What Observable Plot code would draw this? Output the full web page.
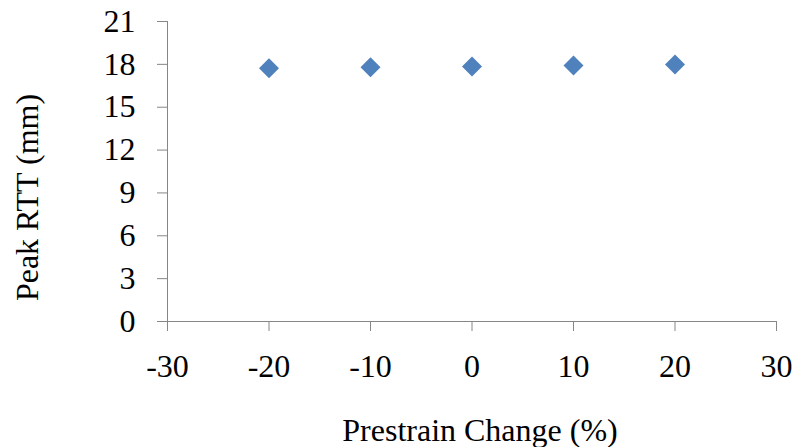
<!DOCTYPE html>
<html>
<head>
<meta charset="utf-8">
<script src="https://cdn.jsdelivr.net/npm/d3@7"></script>
<script src="https://cdn.jsdelivr.net/npm/@observablehq/plot@0.6"></script>
<style>
  html, body { margin: 0; padding: 0; background: #fff; }
  #chart svg { display: block; }
</style>
</head>
<body>
<div id="chart"></div>
<script>
// Data
const prestrainChange = [-20, -10, 0, 10, 20];
const peakRTT = [17.72, 17.8, 17.85, 17.92, 17.99];
const xTicks = [-30, -20, -10, 0, 10, 20, 30];
const yTicks = [0, 3, 6, 9, 12, 15, 18, 21];
const xTitle = "Prestrain Change (%)";
const yTitle = "Peak RTT (mm)";

const points = prestrainChange.map((x, i) => ({x, y: peakRTT[i]}));
const axisColor = "#868686";
const font = "'Liberation Serif', 'Times New Roman', serif";
const fmt = d => String(d); // plain hyphen-minus like the reference

const chart = Plot.plot({
  width: 796,
  height: 447,
  marginLeft: 167,
  marginRight: 20,
  marginTop: 21,
  marginBottom: 126,
  style: {fontFamily: font, background: "#fff", color: "#000"},
  x: {domain: [-30, 30]},
  y: {domain: [0, 21]},
  marks: [
    Plot.axisY(yTicks, {tickSize: 10, tickPadding: 22, fontSize: 32, stroke: axisColor, fill: "#000", tickFormat: fmt, label: null}),
    Plot.axisX(xTicks, {tickSize: 10, tickPadding: 23, fontSize: 32, stroke: axisColor, fill: "#000", tickFormat: fmt, label: null}),
    Plot.ruleY([0], {stroke: axisColor}),
    Plot.ruleX([-30], {stroke: axisColor}),
    Plot.dot(points, {x: "x", y: "y", symbol: "diamond2", r: 9, fill: "#4F81BD", stroke: "none"}),
    Plot.text([yTitle], {frameAnchor: "left", text: d => d, rotate: -90, textAnchor: "middle", lineAnchor: "bottom", dx: -130, dy: 26, fontSize: 32, fill: "#000"}),
    Plot.text([xTitle], {frameAnchor: "bottom", text: d => d, textAnchor: "middle", lineAnchor: "bottom", dx: 8, dy: 119, fontSize: 32, fill: "#000"})
  ]
});
document.getElementById("chart").appendChild(chart);
</script>
</body>
</html>
